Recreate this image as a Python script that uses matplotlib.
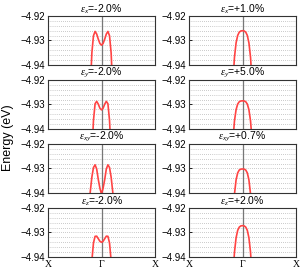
import matplotlib
matplotlib.use("Agg")
import matplotlib.pyplot as plt
import numpy as np

plt.rcParams['font.family'] = ['Liberation Sans', 'DejaVu Sans']
plt.rcParams['mathtext.fontset'] = 'custom'
plt.rcParams['mathtext.it'] = 'Liberation Serif:italic'
plt.rcParams['mathtext.rm'] = 'Liberation Sans'

# k in units where Gamma = 0 and X = +/-1 (symmetric bands: one half given)
k_half = [0.0, 0.03, 0.06, 0.09, 0.12, 0.15, 0.18, 0.21, 0.24]

# left column (compressive strain)
E_x_m2 = [-4.9319, -4.9312, -4.92945, -4.92737, -4.9263, -4.92807, -4.93504, -4.9501, -4.9767]
E_y_m2 = [-4.9322, -4.9315, -4.92986, -4.9287, -4.9297, -4.9365, -4.9500, -4.9680, -4.9900]
E_xy_m2 = [-4.9405, -4.9380, -4.9345, -4.9302, -4.9285, -4.9296, -4.9335, -4.9395, -4.9480]
E_z_m2 = [-4.9340, -4.93358, -4.93253, -4.9315, -4.93156, -4.93424, -4.9415, -4.9556, -4.9750]

# right column (tensile strain)
E_x_p1 = [-4.9260, -4.9261, -4.92658, -4.92793, -4.93097, -4.93686, -4.9471, -4.9635, -4.9850]
E_y_p5 = [-4.9285, -4.92856, -4.92886, -4.92982, -4.93212, -4.9367, -4.9448, -4.9579, -4.9750]
E_xy_p07 = [-4.9302, -4.93025, -4.93061, -4.93179, -4.93465, -4.94044, -4.9507, -4.9650, -4.9850]
E_z_p2 = [-4.9272, -4.9273, -4.92778, -4.92913, -4.93217, -4.93805, -4.9483, -4.9640, -4.9850]

titles_left = [r'$\varepsilon_{x}$=-2.0%', r'$\varepsilon_{y}$=-2.0%',
               r'$\varepsilon_{xy}$=-2.0%', r'$\varepsilon_{z}$=-2.0%']
titles_right = [r'$\varepsilon_{x}$=+1.0%', r'$\varepsilon_{y}$=+5.0%',
                r'$\varepsilon_{xy}$=+0.7%', r'$\varepsilon_{z}$=+2.0%']
data_left = [E_x_m2, E_y_m2, E_xy_m2, E_z_m2]
data_right = [E_x_p1, E_y_p5, E_xy_p07, E_z_p2]

yticks = [-4.94, -4.93, -4.92]
grid_levels = [-4.938, -4.936, -4.934, -4.932, -4.930, -4.928, -4.926, -4.924, -4.922]
kpath_ticks = [-1, 0, 1]
kpath_labels = ['X', 'Γ', 'X']

W, H = 307, 275
fig = plt.figure(figsize=(W / 100, H / 100), dpi=100)

col_x = [48, 189]
ax_w = 107
row_top = [16, 80, 144, 208]
ax_h = 49

for c, (titles, datas) in enumerate([(titles_left, data_left), (titles_right, data_right)]):
    for r in range(4):
        left = col_x[c] / W
        bottom = 1 - (row_top[r] + ax_h) / H
        ax = fig.add_axes([left, bottom, ax_w / W, ax_h / H])
        Eh = datas[r]
        k_full = [-k for k in k_half[::-1]] + k_half[1:]
        E_full = Eh[::-1] + Eh[1:]
        for g in grid_levels:
            ax.axhline(g, color='#9a9a9a', lw=0.5, ls=(0, (1.0, 2.0)), zorder=1)
        ax.axvline(0, color='#777777', lw=0.9, zorder=1.5)
        ax.axvline(-1, color='#e07070', lw=1.2, zorder=1.8)
        ax.plot(k_full, E_full, color='#ff4444', lw=1.2, zorder=2)
        ax.set_xlim(-1, 1)
        ax.set_ylim(-4.94, -4.92)
        ax.set_yticks(yticks)
        ax.set_yticklabels(['\u22124.94', '\u22124.93', '\u22124.92'])
        ax.tick_params(axis='y', direction='in', length=2, width=0.6, labelsize=7, pad=2)
        ax.set_xticks(kpath_ticks)
        if r == 3:
            ax.set_xticklabels(kpath_labels, fontsize=7, family=['Liberation Serif', 'DejaVu Serif'])
            ax.tick_params(axis='x', direction='in', length=0, pad=2)
        else:
            ax.set_xticklabels([])
            ax.tick_params(axis='x', length=0)
        for s in ax.spines.values():
            s.set_linewidth(0.8)
            s.set_color('#333333')
        ax.set_title(titles[r], fontsize=7.5, pad=1.5)

fig.text(8 / W, 0.5, 'Energy (eV)', rotation=90, va='center', ha='center', fontsize=9)

fig.savefig('out.png', dpi=100)
